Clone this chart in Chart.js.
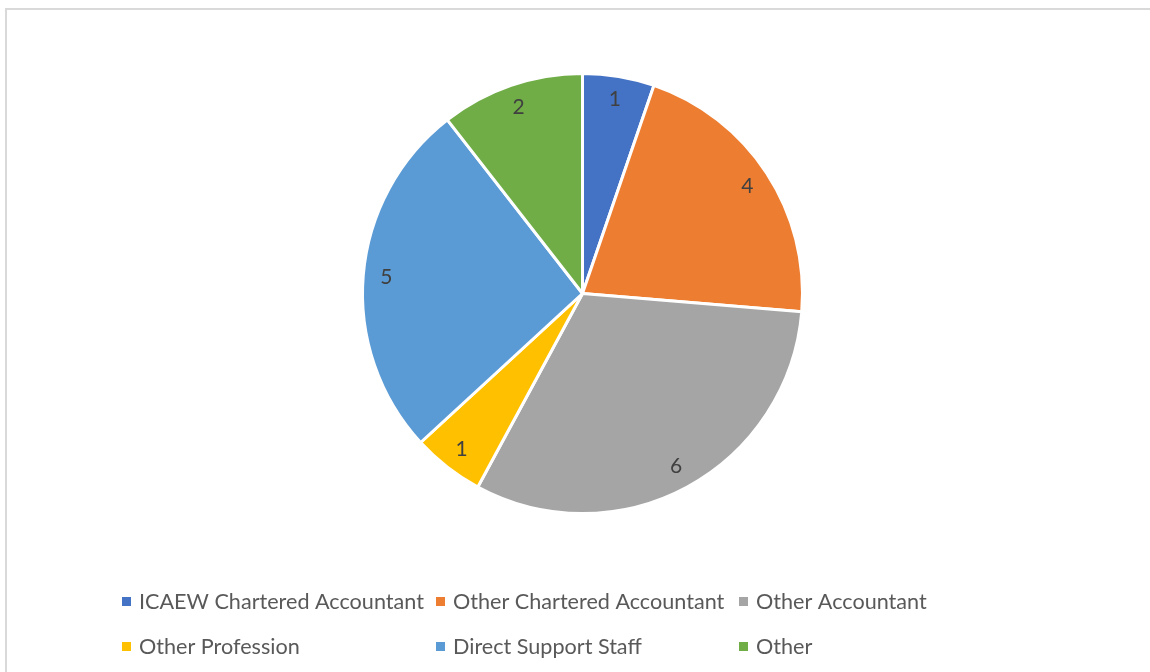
<!DOCTYPE html>
<html>
<head>
<meta charset="utf-8">
<script src="https://cdn.jsdelivr.net/npm/chart.js@4/dist/chart.umd.min.js"></script>
<style>
  html, body { margin: 0; padding: 0; background: #fff; }
  #wrap { width: 1150px; height: 672px; position: relative; }
</style>
</head>
<body>
<div id="wrap"><canvas id="chart-area"></canvas></div>
<script>
var labels = ["ICAEW Chartered Accountant", "Other Chartered Accountant", "Other Accountant",
              "Other Profession", "Direct Support Staff", "Other"];
var counts = [1, 4, 6, 1, 5, 2];
var colors = ["#4472C4", "#ED7D31", "#A5A5A5", "#FFC000", "#5B9BD5", "#70AD47"];

var fontName = "Lato, 'Open Sans', sans-serif";

// frame around the chart, like the office chart border
var framePlugin = {
    id: "frame",
    beforeDraw: function (chart) {
        var c = chart.ctx;
        c.save();
        c.strokeStyle = "#d9d9d9";
        c.lineWidth = 2;
        c.strokeRect(6, 9, 1200, 700);
        c.restore();
    }
};

// numbers inside each slice
var valuePlugin = {
    id: "values",
    afterDatasetsDraw: function (chart) {
        var c = chart.ctx;
        var meta = chart.getDatasetMeta(0);
        c.save();
        c.font = "21px " + fontName;
        c.fillStyle = "#404040";
        c.textAlign = "center";
        c.textBaseline = "middle";
        meta.data.forEach(function (arc, i) {
            var mid = (arc.startAngle + arc.endAngle) / 2;
            var r = arc.outerRadius * 0.895;
            c.fillText(String(counts[i]), arc.x + Math.cos(mid) * r, arc.y + Math.sin(mid) * r);
        });
        c.restore();
    }
};

// legend in three columns, two rows
var legendPlugin = {
    id: "gridLegend",
    afterDraw: function (chart) {
        var c = chart.ctx;
        var colX = [122, 436, 739];
        var rowY = [602, 647];
        c.save();
        c.font = "21.6px " + fontName;
        c.textBaseline = "middle";
        c.textAlign = "left";
        for (var i = 0; i < labels.length; i++) {
            var x = colX[i % 3];
            var y = rowY[Math.floor(i / 3)];
            c.fillStyle = colors[i];
            c.fillRect(x, y - 5, 9, 9);
            c.fillStyle = "#595959";
            c.fillText(labels[i], x + 17, y);
        }
        c.restore();
    }
};

var ctx = document.getElementById("chart-area").getContext("2d");
var myGraph = new Chart(ctx, {
    type: "pie",
    data: {
        labels: labels,
        datasets: [{
            data: counts,
            backgroundColor: colors,
            borderColor: "#ffffff",
            borderWidth: 3
        }]
    },
    options: {
        responsive: true,
        maintainAspectRatio: false,
        animation: false,
        layout: { padding: { top: 72, bottom: 157, left: 15, right: 0 } },
        plugins: {
            legend: { display: false },
            tooltip: { enabled: false }
        }
    },
    plugins: [framePlugin, valuePlugin, legendPlugin]
});
</script>
</body>
</html>
